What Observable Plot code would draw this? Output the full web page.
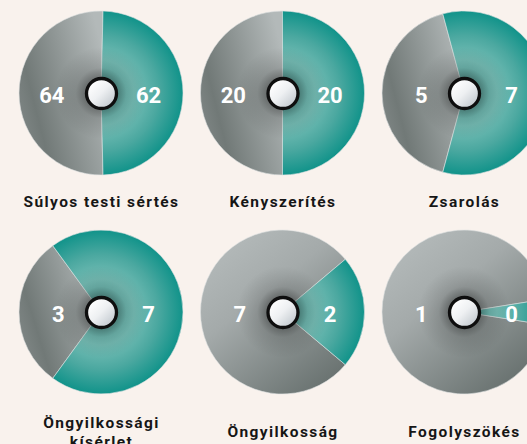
<!DOCTYPE html>
<html>
<head>
<meta charset="utf-8">
<script src="https://cdn.jsdelivr.net/npm/d3@7"></script>
<script src="https://cdn.jsdelivr.net/npm/@observablehq/plot@0.6"></script>
<style>
  html, body { margin: 0; padding: 0; background: #f9f2ed; }
</style>
</head>
<body>
<div id="chart"></div>
<script>
// ---- data ----
const categories = ["Súlyos testi sértés", "Kényszerítés", "Zsarolás", "Öngyilkossági\nkísérlet", "Öngyilkosság", "Fogolyszökés"];
const grayCounts = [64, 20, 5, 3, 7, 1];
const tealCounts = [62, 20, 7, 7, 2, 0];

// ---- layout / style ----
const radius = 82;
const holeRadius = 15;
const minShare = 0.05; // a zero count still shows a sliver
const labelDy = [107.6, 118.7];
const labelSize = 15.5;

const table = categories.map((name, i) => ({
  name, gray: grayCounts[i], teal: tealCounts[i], col: i % 3, row: Math.floor(i / 3)
}));

const pies = Plot.dot(table, {
  x: "col", y: "row", r: radius, fill: "none",
  render(index, scales, values) {
    const g = d3.create("svg:g").attr("aria-label", "pies");
    const arc = d3.arc().innerRadius(0).outerRadius(radius);
    for (const i of index) {
      const d = table[i];
      const total = d.gray + d.teal;
      const tealShare = Math.max(d.teal / total, minShare);
      const span = tealShare * 2 * Math.PI;
      const a0 = Math.PI / 2 - span / 2, a1 = Math.PI / 2 + span / 2;
      const pg = g.append("g").attr("transform", `translate(${values.x[i]},${values.y[i]})`);
      pg.append("path")
        .attr("d", arc({startAngle: a1, endAngle: a0 + 2 * Math.PI}))
        .attr("fill", (1 - tealShare) > 0.6 ? "url(#grayWide)" : "url(#grayHalf)")
        .attr("stroke", "#dde1e0").attr("stroke-width", 0.6);
      pg.append("path")
        .attr("d", arc({startAngle: a0, endAngle: a1}))
        .attr("fill", "url(#tealGrad)")
        .attr("stroke", "#dde1e0").attr("stroke-width", 0.6);
      pg.append("circle").attr("r", 46).attr("fill", "url(#shade)");
    }
    return g.node();
  }
});

const chart = Plot.plot({
  width: 527, height: 444,
  marginLeft: 101, marginRight: 63, marginTop: 93, marginBottom: 132,
  x: {domain: [0, 2], axis: null},
  y: {domain: [0, 1], axis: null, reverse: true},
  style: {background: "#f9f2ed", fontFamily: "Roboto, sans-serif"},
  marks: [
    pies,
    Plot.dot(table, {x: "col", y: "row", r: holeRadius, fill: "url(#holeGrad)", stroke: "#0e0e0e", strokeWidth: 3.3}),
    Plot.text(table, {x: "col", y: "row", text: d => String(d.gray), dx: -37, dy: 2, textAnchor: "end",
      fill: "white", fontSize: 22, fontWeight: 700}),
    Plot.text(table, {x: "col", y: "row", text: d => String(d.teal), dx: 47, dy: 2, textAnchor: "middle",
      fill: "white", fontSize: 22, fontWeight: 700}),
    Plot.text(table.filter(d => d.row === 0), {x: "col", y: "row", text: "name", dy: labelDy[0], lineHeight: 1.25,
      fill: "#161616", fontSize: labelSize, fontWeight: 700}),
    Plot.text(table.filter(d => d.row === 1), {x: "col", y: "row", text: "name", dy: labelDy[1], lineHeight: 1.25,
      fill: "#161616", fontSize: labelSize, fontWeight: 700})
  ]
});

const svgEl = chart.tagName.toLowerCase() === "svg" ? chart : chart.querySelector("svg");
d3.select(svgEl).selectAll(`g[font-size="${labelSize}"]`).style("letter-spacing", "1.4px");

const defs = d3.select(svgEl).insert("defs", ":first-child");
const grayHalf = defs.append("linearGradient").attr("id", "grayHalf")
  .attr("x1", 0).attr("y1", 0.75).attr("x2", 1).attr("y2", 0.25);
[[0, "#818887"], [0.22, "#717977"], [1, "#b3b9b9"]].forEach(([o, c]) => grayHalf.append("stop").attr("offset", o).attr("stop-color", c));
const grayWide = defs.append("linearGradient").attr("id", "grayWide").attr("gradientUnits", "userSpaceOnUse")
  .attr("x1", -55).attr("y1", -70).attr("x2", 55).attr("y2", 70);
[[0, "#b3b9b9"], [0.35, "#a4aaaa"], [1, "#67706e"]].forEach(([o, c]) => grayWide.append("stop").attr("offset", o).attr("stop-color", c));
const teal = defs.append("radialGradient").attr("id", "tealGrad").attr("gradientUnits", "userSpaceOnUse")
  .attr("cx", 0).attr("cy", 0).attr("r", radius);
[[0, "#5fafa7"], [0.4, "#76beb6"], [0.7, "#4ba8a0"], [1, "#11938a"]].forEach(([o, c]) => teal.append("stop").attr("offset", o).attr("stop-color", c));
const shade = defs.append("radialGradient").attr("id", "shade").attr("gradientUnits", "userSpaceOnUse")
  .attr("cx", 0).attr("cy", 0).attr("r", 46);
[[0.3, "#000", 0.38], [0.55, "#000", 0.12], [1, "#000", 0]].forEach(([o, c, a]) => shade.append("stop").attr("offset", o).attr("stop-color", c).attr("stop-opacity", a));
const hole = defs.append("linearGradient").attr("id", "holeGrad").attr("x1", 0.15).attr("y1", 0.15).attr("x2", 0.9).attr("y2", 0.9);
[[0, "#ffffff"], [0.45, "#eef0f2"], [1, "#bfc6cc"]].forEach(([o, c]) => hole.append("stop").attr("offset", o).attr("stop-color", c));

document.getElementById("chart").appendChild(chart);
</script>
</body>
</html>
